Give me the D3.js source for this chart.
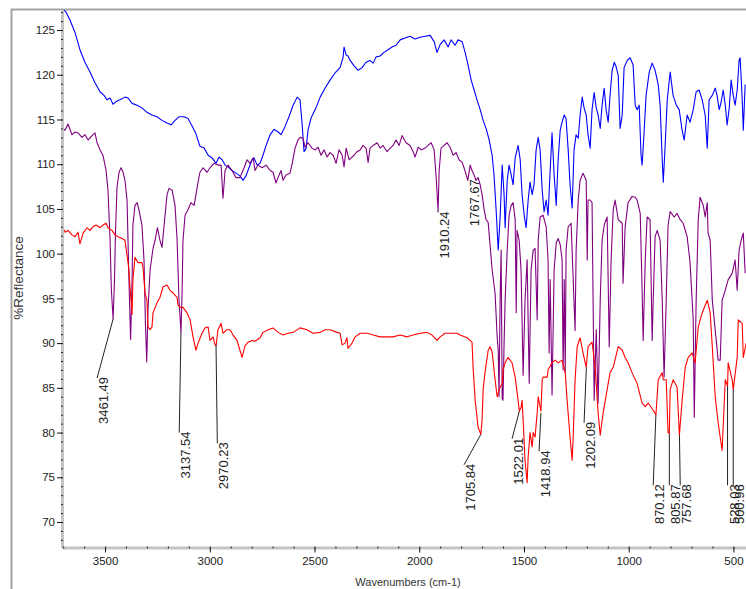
<!DOCTYPE html>
<html>
<head>
<meta charset="utf-8">
<script src="https://cdn.jsdelivr.net/npm/d3@7"></script>
<style>
  html, body { margin: 0; padding: 0; background: #fff; }
  svg { display: block; font-family: "Liberation Sans", Arial, sans-serif; }
</style>
</head>
<body>
<svg id="chart" width="746" height="589"></svg>
<script>
// [wavenumber, %reflectance]
const blueSeries = [
  [3706, 127.5], [3686, 127.0], [3667, 126.1], [3643, 124.7], [3620, 122.8], [3596, 121.4],
  [3572, 120.3], [3548, 119.1], [3524, 118.1], [3505, 117.7], [3491, 117.2], [3476, 117.4],
  [3462, 116.7], [3448, 117.0], [3429, 117.2], [3405, 117.5], [3390, 117.4], [3371, 116.8],
  [3347, 116.6], [3324, 116.3], [3300, 115.8], [3276, 115.5], [3252, 115.3], [3228, 114.9],
  [3204, 114.6], [3185, 114.4], [3166, 114.9], [3147, 115.3], [3123, 115.3], [3104, 115.1],
  [3085, 114.3], [3066, 113.4], [3047, 112.0], [3027, 111.8], [3008, 111.0], [2989, 110.7],
  [2970, 110.1], [2956, 110.8], [2941, 110.5], [2927, 109.9], [2913, 109.7], [2894, 109.3],
  [2875, 109.0], [2856, 108.7], [2841, 108.2], [2827, 108.7], [2813, 109.6], [2798, 110.5],
  [2789, 110.7], [2774, 109.9], [2760, 110.1], [2746, 111.0], [2731, 112.1], [2712, 113.3],
  [2693, 113.9], [2674, 113.6], [2660, 113.3], [2641, 114.2], [2622, 115.3], [2602, 116.6],
  [2583, 117.5], [2569, 117.2], [2559, 114.4], [2550, 111.4], [2540, 111.8], [2531, 113.8],
  [2516, 115.2], [2493, 116.3], [2473, 117.5], [2450, 118.5], [2426, 119.4], [2402, 120.2],
  [2378, 120.8], [2364, 121.9], [2359, 123.1], [2349, 122.2], [2340, 122.1], [2330, 121.6],
  [2311, 121.0], [2292, 120.5], [2273, 120.8], [2254, 121.4], [2235, 121.6], [2220, 121.3],
  [2206, 122.0], [2187, 122.1], [2168, 122.5], [2149, 122.8], [2130, 123.1], [2111, 123.3],
  [2091, 123.9], [2068, 124.1], [2044, 124.3], [2020, 124.0], [1996, 124.2], [1972, 124.3],
  [1948, 124.4], [1929, 123.7], [1915, 122.5], [1900, 123.4], [1881, 123.9], [1862, 123.1],
  [1848, 123.9], [1829, 123.3], [1814, 123.9], [1795, 123.7], [1781, 122.5], [1767, 121.1],
  [1752, 119.4], [1738, 118.3], [1724, 117.2], [1709, 116.1], [1695, 114.9], [1681, 114.0],
  [1666, 112.7], [1652, 111.0], [1643, 108.8], [1633, 104.9], [1623, 100.4], [1614, 104.0],
  [1604, 109.9], [1595, 106.6], [1590, 102.9], [1580, 108.2], [1571, 109.9], [1561, 108.8],
  [1552, 107.7], [1542, 110.7], [1528, 112.1], [1518, 110.5], [1509, 106.6], [1499, 104.3],
  [1490, 102.9], [1480, 106.0], [1471, 108.0], [1461, 106.6], [1452, 107.7], [1442, 111.6],
  [1432, 113.0], [1423, 111.6], [1413, 107.1], [1404, 104.7], [1394, 106.0], [1385, 104.3],
  [1375, 109.3], [1366, 113.5], [1356, 108.8], [1346, 105.4], [1337, 110.5], [1327, 113.8],
  [1318, 114.7], [1308, 115.5], [1299, 115.1], [1289, 111.6], [1280, 107.7], [1270, 105.1],
  [1261, 111.6], [1251, 113.3], [1241, 112.9], [1232, 115.5], [1222, 117.5], [1213, 116.3],
  [1203, 115.5], [1194, 113.3], [1184, 111.8], [1175, 116.1], [1165, 118.0], [1155, 116.3],
  [1146, 115.5], [1136, 114.0], [1127, 116.6], [1117, 118.5], [1108, 116.1], [1098, 114.7],
  [1089, 117.7], [1079, 120.5], [1069, 121.4], [1060, 120.9], [1050, 119.9], [1041, 114.0],
  [1031, 115.5], [1022, 120.8], [1007, 121.6], [993, 121.9], [979, 121.1], [969, 116.6],
  [960, 116.1], [950, 116.6], [941, 111.0], [936, 109.9], [926, 113.8], [917, 117.7],
  [902, 120.3], [888, 121.3], [874, 120.5], [859, 118.9], [850, 116.6], [840, 110.5],
  [835, 108.0], [826, 112.1], [816, 117.2], [802, 120.3], [788, 117.7], [773, 116.6],
  [759, 116.1], [745, 113.8], [735, 112.7], [721, 115.5], [707, 114.7], [692, 116.1],
  [678, 118.1], [664, 118.3], [649, 117.2], [635, 115.5], [625, 111.8], [616, 117.2],
  [601, 117.7], [587, 118.5], [578, 117.7], [568, 116.1], [559, 116.9], [549, 118.3],
  [539, 116.6], [530, 114.4], [520, 116.3], [511, 119.4], [501, 117.7], [492, 116.6],
  [482, 118.3], [473, 121.6], [468, 121.9], [458, 117.2], [453, 113.8], [444, 118.9]
];

const purpleSeries = [
  [3706, 114.0], [3691, 113.8], [3677, 114.5], [3658, 113.3], [3643, 113.6], [3629, 113.5],
  [3610, 113.0], [3596, 113.3], [3581, 112.7], [3562, 113.2], [3548, 113.5], [3538, 112.4],
  [3524, 111.6], [3510, 111.0], [3495, 109.3], [3486, 107.1], [3476, 101.5], [3470, 96.0],
  [3461.5, 92.7], [3455, 97.0], [3450, 102.6], [3443, 107.4], [3433, 109.1], [3424, 109.6],
  [3414, 109.1], [3405, 108.2], [3395, 106.0], [3386, 97.1], [3378, 90.4], [3371, 97.0],
  [3367, 103.2], [3357, 105.4], [3347, 105.7], [3338, 104.9], [3324, 103.2], [3314, 99.3],
  [3307, 92.0], [3301, 87.9], [3295, 93.7], [3285, 98.2], [3271, 100.6], [3261, 101.5],
  [3250, 102.9], [3238, 101.5], [3228, 100.7], [3218, 103.2], [3204, 106.6], [3195, 107.3],
  [3180, 107.1], [3166, 105.4], [3156, 101.5], [3147, 94.8], [3137.5, 91.2], [3132, 96.0],
  [3128, 101.5], [3118, 104.3], [3104, 104.9], [3090, 105.7], [3075, 105.4], [3066, 106.6],
  [3056, 108.0], [3047, 109.1], [3032, 109.6], [3013, 109.1], [2999, 109.6], [2980, 110.1],
  [2961, 109.9], [2946, 109.9], [2937, 106.2], [2927, 109.3], [2913, 109.9], [2894, 109.3],
  [2875, 108.5], [2856, 108.5], [2836, 109.6], [2822, 110.5], [2808, 110.1], [2793, 110.7],
  [2784, 109.3], [2770, 109.9], [2750, 109.6], [2731, 109.9], [2712, 109.3], [2698, 109.1],
  [2684, 107.9], [2674, 108.5], [2660, 109.3], [2650, 108.2], [2636, 108.8], [2617, 109.0],
  [2607, 110.0], [2593, 111.8], [2579, 112.7], [2569, 113.0], [2555, 112.9], [2545, 111.9],
  [2531, 112.4], [2512, 111.8], [2497, 111.6], [2483, 111.9], [2469, 111.0], [2454, 111.6],
  [2440, 110.8], [2426, 111.3], [2411, 111.0], [2397, 110.1], [2383, 111.6], [2368, 111.0],
  [2359, 109.7], [2349, 111.8], [2335, 110.5], [2325, 110.7], [2311, 111.0], [2297, 111.4],
  [2282, 111.6], [2268, 112.1], [2254, 111.8], [2244, 110.2], [2235, 111.8], [2220, 112.1],
  [2201, 112.4], [2187, 111.8], [2173, 112.1], [2154, 111.4], [2139, 111.8], [2125, 112.1],
  [2111, 112.7], [2096, 112.1], [2082, 113.2], [2063, 112.4], [2044, 112.1], [2029, 111.4],
  [2020, 110.8], [2005, 111.9], [1991, 111.6], [1972, 111.8], [1958, 112.1], [1943, 112.4],
  [1929, 111.6], [1920, 108.8], [1910, 104.8], [1905, 109.3], [1896, 111.8], [1881, 112.1],
  [1867, 112.4], [1853, 111.9], [1838, 111.0], [1824, 111.3], [1810, 110.5], [1795, 110.2],
  [1786, 109.6], [1776, 108.8], [1768, 108.2], [1757, 109.9], [1748, 109.3], [1738, 108.8],
  [1729, 108.2], [1719, 108.5], [1709, 107.7], [1700, 106.6], [1690, 104.9], [1681, 103.8],
  [1671, 103.5], [1652, 98.2], [1638, 95.6], [1628, 90.7], [1623, 89.2], [1619, 84.0],
  [1614, 94.8], [1609, 100.4], [1604, 83.8], [1600, 83.6], [1595, 90.0], [1590, 94.8],
  [1580, 100.4], [1571, 104.3], [1561, 105.4], [1552, 105.7], [1542, 103.8], [1537, 93.4],
  [1533, 102.6], [1523, 101.5], [1514, 98.2], [1504, 86.4], [1495, 94.8], [1485, 99.3],
  [1475, 85.5], [1466, 98.2], [1456, 100.4], [1447, 100.6], [1437, 92.6], [1432, 101.5],
  [1423, 104.1], [1409, 104.3], [1394, 103.0], [1385, 99.3], [1380, 88.9], [1375, 97.1],
  [1366, 84.2], [1356, 98.2], [1346, 101.2], [1337, 101.7], [1327, 101.0], [1318, 99.3],
  [1313, 87.0], [1308, 97.1], [1303, 86.7], [1299, 100.4], [1289, 103.0], [1275, 103.4],
  [1265, 97.1], [1256, 91.4], [1251, 100.4], [1241, 106.0], [1232, 108.2], [1218, 109.0],
  [1203, 108.2], [1198, 99.3], [1194, 106.0], [1184, 106.0], [1175, 105.7], [1165, 83.6],
  [1155, 91.5], [1146, 83.3], [1136, 94.8], [1127, 101.5], [1117, 103.2], [1103, 104.1],
  [1093, 89.6], [1084, 99.3], [1074, 104.9], [1065, 106.0], [1050, 103.8], [1031, 103.4],
  [1027, 96.7], [1017, 103.0], [1003, 105.7], [984, 106.4], [969, 106.3], [960, 106.0],
  [945, 104.5], [936, 95.9], [931, 90.3], [921, 99.3], [912, 104.1], [898, 103.8],
  [888, 90.3], [883, 94.8], [874, 101.9], [864, 102.6], [850, 101.5], [840, 94.8],
  [831, 86.2], [821, 94.8], [812, 103.2], [802, 104.7], [783, 104.1], [769, 104.5],
  [754, 103.8], [740, 103.4], [721, 101.9], [707, 99.0], [692, 92.6], [687, 81.7],
  [678, 94.8], [668, 103.8], [659, 106.3], [644, 105.4], [635, 104.1], [625, 105.7],
  [621, 102.3], [611, 101.5], [601, 94.8], [587, 91.5], [573, 88.1], [563, 88.1],
  [554, 94.8], [539, 95.9], [525, 97.1], [506, 97.8], [492, 99.3], [482, 95.9],
  [473, 100.4], [463, 101.5], [453, 102.3], [444, 97.8]
];

const redSeries = [
  [3701, 102.9], [3691, 102.4], [3677, 102.6], [3658, 102.1], [3643, 101.9], [3629, 102.4],
  [3620, 101.1], [3605, 102.3], [3586, 102.9], [3572, 102.6], [3558, 103.0], [3543, 103.2],
  [3524, 102.9], [3510, 103.2], [3495, 103.4], [3486, 102.9], [3467, 102.6], [3452, 102.1],
  [3438, 101.9], [3419, 101.7], [3405, 101.5], [3395, 99.8], [3386, 98.2], [3381, 96.3],
  [3371, 93.2], [3367, 97.1], [3357, 99.6], [3343, 99.0], [3324, 99.0], [3319, 98.5],
  [3309, 95.6], [3300, 94.8], [3295, 91.8], [3285, 91.5], [3276, 91.8], [3271, 93.4],
  [3252, 94.5], [3238, 95.1], [3223, 96.3], [3204, 96.5], [3190, 95.9], [3175, 95.6],
  [3156, 95.1], [3152, 94.3], [3142, 94.0], [3128, 94.0], [3109, 93.4], [3094, 92.6],
  [3080, 90.7], [3066, 89.2], [3056, 90.0], [3037, 91.1], [3023, 91.7], [3008, 91.8],
  [2999, 90.3], [2984, 90.7], [2975, 89.8], [2970, 89.7], [2961, 91.5], [2946, 92.2],
  [2937, 91.1], [2918, 91.5], [2903, 91.5], [2889, 90.9], [2870, 90.3], [2856, 89.2],
  [2846, 88.4], [2832, 89.7], [2817, 90.1], [2798, 90.3], [2784, 90.2], [2760, 90.6],
  [2746, 91.2], [2722, 91.5], [2698, 91.7], [2674, 91.2], [2650, 90.9], [2626, 91.1],
  [2602, 91.2], [2569, 91.7], [2536, 91.5], [2507, 91.1], [2473, 91.2], [2450, 91.5],
  [2426, 91.5], [2392, 91.2], [2378, 91.1], [2368, 89.8], [2354, 90.0], [2345, 90.6],
  [2340, 89.4], [2321, 90.0], [2306, 90.7], [2282, 91.1], [2249, 91.1], [2220, 90.9],
  [2187, 90.7], [2154, 90.7], [2125, 90.7], [2091, 90.9], [2058, 90.7], [2029, 90.9],
  [1996, 91.1], [1963, 91.2], [1939, 90.9], [1915, 90.3], [1900, 90.7], [1877, 91.1],
  [1843, 91.1], [1819, 91.1], [1805, 90.9], [1772, 90.6], [1748, 90.1], [1743, 87.3],
  [1733, 83.6], [1719, 80.6], [1706, 79.8], [1700, 81.4], [1695, 84.8], [1686, 86.7],
  [1671, 89.2], [1662, 89.6], [1652, 89.0], [1638, 85.9], [1628, 84.0], [1619, 84.8],
  [1604, 85.5], [1600, 87.0], [1590, 87.8], [1576, 88.4], [1557, 87.8], [1542, 86.2],
  [1528, 83.6], [1522, 82.4], [1514, 82.8], [1509, 83.6], [1504, 81.4], [1495, 76.9],
  [1485, 74.4], [1480, 77.3], [1471, 80.0], [1461, 78.4], [1456, 80.0], [1447, 79.5],
  [1437, 82.2], [1432, 84.0], [1423, 82.9], [1419, 82.4], [1413, 85.9], [1409, 86.2],
  [1389, 86.2], [1385, 87.0], [1366, 87.8], [1351, 88.1], [1337, 87.8], [1318, 88.1],
  [1303, 86.7], [1294, 83.6], [1280, 79.5], [1270, 76.9], [1265, 79.5], [1256, 85.9],
  [1246, 89.6], [1232, 90.6], [1218, 88.9], [1203, 87.3], [1194, 89.6], [1175, 90.1],
  [1160, 87.3], [1146, 82.2], [1136, 79.7], [1122, 82.2], [1103, 84.8], [1089, 86.7],
  [1074, 87.3], [1050, 89.6], [1031, 89.2], [1017, 88.4], [1003, 87.8], [984, 86.7],
  [960, 85.5], [936, 83.3], [921, 82.9], [907, 83.3], [883, 82.5], [870, 82.0],
  [859, 85.9], [840, 86.7], [835, 85.9], [821, 85.9], [812, 80.0], [806, 79.9],
  [802, 84.8], [788, 85.9], [769, 85.1], [758, 79.7], [745, 83.6], [730, 87.3],
  [716, 88.4], [697, 88.9], [683, 87.8], [668, 91.8], [649, 93.4], [625, 94.8],
  [611, 93.4], [601, 89.6], [587, 84.0], [573, 81.1], [554, 78.0], [539, 85.9],
  [528, 85.2], [525, 87.8], [506, 85.9], [501, 84.8], [482, 88.4], [477, 92.6],
  [458, 92.2], [453, 88.4], [439, 90.0]
];

// peak labels: peak point, then where the leader ends and the label starts
const peakText = ["3461.49", "3137.54", "2970.23", "1910.24", "1767.67", "1705.84", "1522.01",
  "1418.94", "1202.09", "870.12", "805.87", "757.68", "528.03", "500.96"];
const peakWn = [3461.49, 3137.54, 2970.23, 1910.24, 1767.67, 1705.84, 1522.01,
  1418.94, 1202.09, 870.12, 805.87, 757.68, 528.03, 500.96];
const peakVal = [92.7, 91.2, 89.8, 104.8, 108.2, 79.8, 82.4, 82.2, 87.3, 82.0, 79.9, 79.7, 85.2, 84.8];
const tagWn = [3538, 3146, 2964, 1910.24, 1767.67, 1786, 1557, 1428, 1213, 883, 805.87, 754, 528.03, 500.96];
const tagVal = [86.1, 80.0, 78.8, 104.6, 108.2, 76.4, 79.3, 77.9, 81.1, 74.1, 74.1, 74.1, 74.1, 74.1];

const yMajor = d3.range(70, 126, 5);
const yMinor = d3.range(68, 128, 1);
const xMajor = [3500, 3000, 2500, 2000, 1500, 1000, 500];
const xMinor = d3.range(3700, 400, -100);

const svg = d3.select("svg#chart");
const x = d3.scaleLinear().domain([3707, 440]).range([61.7, 746]);
const y = d3.scaleLinear().domain([67.15, 127.24]).range([547.5, 10]);

// window frame on top and left
svg.append("path")
    .attr("d", "M11.5,589V9.5H746")
    .attr("fill", "none")
    .attr("stroke", "#a3a3a3")
    .attr("stroke-width", 2);

svg.append("clipPath").attr("id", "plotClip")
  .append("rect")
    .attr("x", 62).attr("y", 10)
    .attr("width", 746 - 62).attr("height", 537);

const line = d3.line()
    .x((d) => x(d[0]))
    .y((d) => y(d[1]));

const plot = svg.append("g").attr("clip-path", "url(#plotClip)");
[[blueSeries, "#0000ff"], [purpleSeries, "#800080"], [redSeries, "#ff0000"]]
    .forEach(([data, color]) => {
      plot.append("path")
          .datum(data)
          .attr("fill", "none")
          .attr("stroke", color)
          .attr("stroke-width", 1.1)
          .attr("stroke-linejoin", "round")
          .attr("d", line);
    });

// axes: a light grey band with black ticks on it
function styleAxis(g) {
  g.select(".domain").attr("stroke", "#c4c4c4").attr("stroke-width", 3);
  g.selectAll(".tick line").attr("stroke", "#111");
  g.selectAll(".tick text")
      .attr("fill", "#222")
      .style("font-size", "11.5px")
      .style("font-family", "'Liberation Sans', Arial, sans-serif");
}

svg.append("g")
    .attr("transform", "translate(62,0)")
    .call(d3.axisLeft(y).tickValues(yMajor).tickFormat(d3.format("d"))
        .tickSize(5).tickSizeOuter(0).tickPadding(2))
    .call(styleAxis);
svg.append("g")
    .attr("transform", "translate(0,547.5)")
    .call(d3.axisBottom(x).tickValues(xMajor).tickFormat(d3.format("d"))
        .tickSize(5).tickSizeOuter(0).tickPadding(4))
    .call(styleAxis);

svg.append("g")
    .attr("transform", "translate(63,0)")
    .call(d3.axisLeft(y).tickValues(yMinor).tickSize(2).tickFormat(""))
    .call((g) => g.select(".domain").remove())
    .call((g) => g.selectAll(".tick line").attr("stroke", "#222"));
svg.append("g")
    .attr("transform", "translate(0,546.5)")
    .call(d3.axisBottom(x).tickValues(xMinor).tickSize(2).tickFormat(""))
    .call((g) => g.select(".domain").remove())
    .call((g) => g.selectAll(".tick line").attr("stroke", "#222"));

// peak labels
const tags = svg.append("g");
peakText.forEach((label, i) => {
  const x0 = x(peakWn[i]);
  const y0 = y(peakVal[i]);
  const x1 = x(tagWn[i]);
  const y1 = y(tagVal[i]);
  tags.append("line")
      .attr("x1", x0).attr("y1", y0)
      .attr("x2", x1).attr("y2", y1)
      .attr("stroke", "#222")
      .attr("stroke-width", 1);
  tags.append("text")
      .attr("transform", "translate(" + (x1 + 11) + "," + (y1 - 1) + ") rotate(-90)")
      .attr("text-anchor", "end")
      .attr("fill", "#222")
      .style("font-size", "13px")
      .text(label);
});

svg.append("text")
    .attr("x", 408)
    .attr("y", 586)
    .attr("text-anchor", "middle")
    .attr("fill", "#333")
    .style("font-size", "11px")
    .text("Wavenumbers (cm-1)");

svg.append("text")
    .attr("transform", "translate(23,278) rotate(-90)")
    .attr("text-anchor", "middle")
    .attr("fill", "#333")
    .style("font-size", "13.5px")
    .text("%Reflectance");
</script>
</body>
</html>
